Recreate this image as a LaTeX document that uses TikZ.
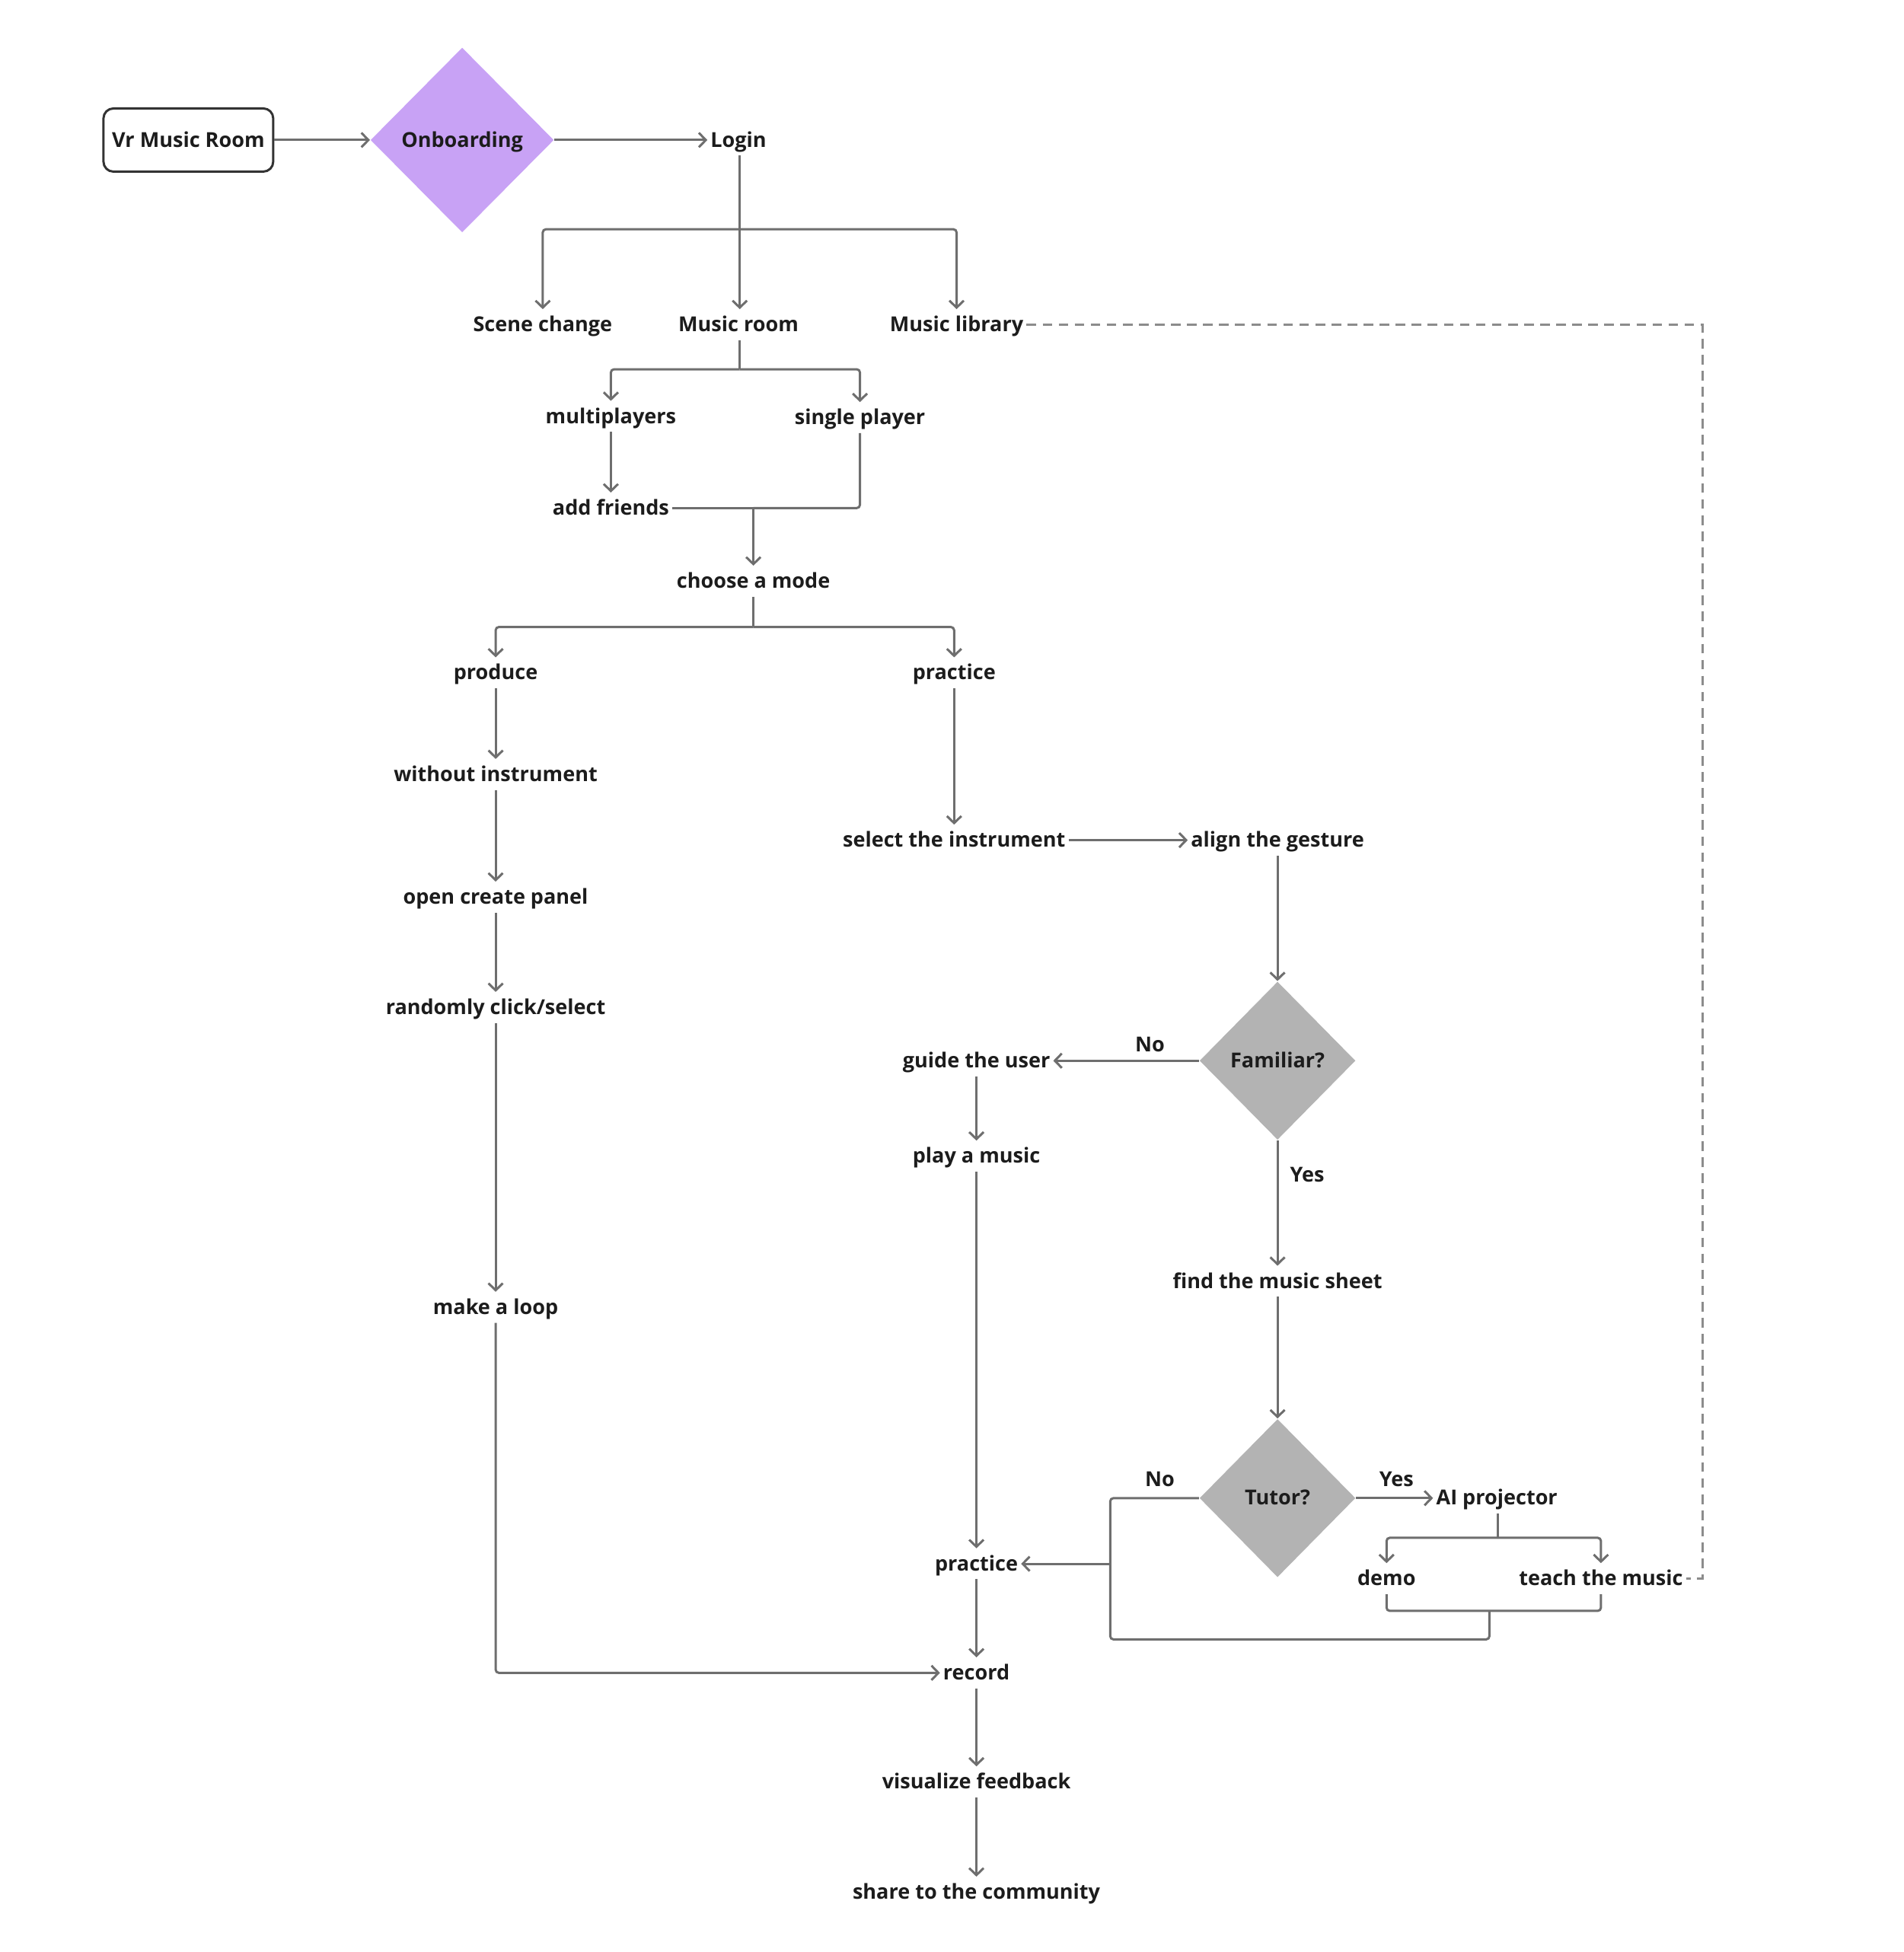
\documentclass[tikz,border=0pt]{standalone}
\usepackage{fontspec}
\setmainfont{Open Sans}
\usetikzlibrary{shapes.geometric,arrows.meta}
\definecolor{txt}{HTML}{1C1C1C}
\definecolor{lc}{HTML}{6E6E6E}
\definecolor{dl}{HTML}{8C8C8C}
\definecolor{lav}{HTML}{C8A2F5}
\definecolor{gry}{HTML}{B3B3B3}
\tikzset{
  lbl/.style={font=\fontsize{7.7}{9}\selectfont\bfseries, text=txt, inner xsep=1pt, inner ysep=2pt, text height=6.2pt, text depth=1pt},
  con/.style={draw=lc, line width=0.85pt, rounded corners=1.2pt},
  arr/.style={con, -{Straight Barb[length=2.6pt,width=5.4pt]}},
  dsh/.style={draw=dl, line width=0.8pt, dash pattern=on 3.6pt off 2.4pt},
  box/.style={lbl, draw=txt!90, line width=0.85pt, rounded corners=0.13cm, minimum width=2.23cm, minimum height=0.83cm},
  decis/.style={lbl, diamond, inner sep=0pt, aspect=1, minimum width=2.05cm, minimum height=2.08cm, fill=gry},
}
\begin{document}
\begin{tikzpicture}[x=0.016276cm, y=-0.016276cm]
\useasboundingbox (0,0) rectangle (1536,1575.3);
% nodes
\node[box] (vr) at (152,113) {Vr Music Room};
\node[decis, fill=lav, minimum width=2.41cm, minimum height=2.43cm] (onb) at (373,113) {Onboarding};
\node[lbl] (login) at (596,113) {Login};
\node[lbl] (scene) at (438,262) {Scene change};
\node[lbl] (mroom) at (596,262) {Music room};
\node[lbl] (lib) at (772,262) {Music library};
\node[lbl] (multi) at (493,336) {multiplayers};
\node[lbl] (single) at (694,337) {single player};
\node[lbl] (addf) at (493,410) {add friends};
\node[lbl] (choose) at (608,469) {choose a mode};
\node[lbl] (produce) at (400,543) {produce};
\node[lbl] (practice) at (770,543) {practice};
\node[lbl] (without) at (400,625) {without instrument};
\node[lbl] (panel) at (400,724) {open create panel};
\node[lbl] (rand) at (400,813) {randomly click/select};
\node[lbl] (loop) at (400,1055) {make a loop};
\node[lbl] (sel) at (770,678) {select the instrument};
\node[lbl] (align) at (1031,678) {align the gesture};
\node[decis] (fam) at (1031,856) {Familiar?};
\node[lbl] (guide) at (788,856) {guide the user};
\node[lbl] (play) at (788,933) {play a music};
\node[lbl] (find) at (1031,1034) {find the music sheet};
\node[decis] (tutor) at (1031,1209) {Tutor?};
\node[lbl] (ai) at (1208,1209) {AI projector};
\node[lbl] (demo) at (1119,1274) {demo};
\node[lbl] (teach) at (1292,1274) {teach the music};
\node[lbl] (prac2) at (788,1262) {practice};
\node[lbl] (record) at (788,1350) {record};
\node[lbl] (vis) at (788,1438) {visualize feedback};
\node[lbl] (share) at (788,1527) {share to the community};
% edge labels
\node[lbl] (no1) at (928,843) {No};
\node[lbl] (yes1) at (1055,948) {Yes};
\node[lbl] (no2) at (936,1194) {No};
\node[lbl] (yes2) at (1127,1194) {Yes};
% junction points
\coordinate (j1) at (597,185);
\coordinate (j2) at (597,298);
\coordinate (j3) at (608,410);
\coordinate (j4) at (608,506);
\coordinate (j5) at (1209,1241);
\coordinate (j6) at (1202,1300);
\coordinate (j7) at (896,1262);
\coordinate (dc) at (1374,262);
% connectors
\draw[arr] (vr) -- (onb);
\draw[arr] (onb) -- (login);
\draw[con] (login.south -| j1) -- (j1);
\draw[arr] (j1) -| (scene.north);
\draw[arr] (j1) -- (j1 |- mroom.north);
\draw[arr] (j1) -| (lib.north);
\draw[dsh] (lib.east) -- (dc) |- (teach.east);
\draw[con] (mroom.south -| j2) -- (j2);
\draw[arr] (j2) -| (multi.north);
\draw[arr] (j2) -| (single.north);
\draw[arr] (multi) -- (addf);
\draw[con] (addf.east) -- (j3);
\draw[con] (single.south) |- (j3);
\draw[arr] (j3) -- (choose.north -| j3);
\draw[con] (choose.south -| j4) -- (j4);
\draw[arr] (j4) -| (produce.north);
\draw[arr] (j4) -| (practice.north);
\draw[arr] (produce) -- (without);
\draw[arr] (without) -- (panel);
\draw[arr] (panel) -- (rand);
\draw[arr] (rand) -- (loop);
\draw[arr] (loop.south) |- (record.west);
\draw[arr] (practice) -- (sel);
\draw[arr] (sel) -- (align);
\draw[arr] (align) -- (fam);
\draw[arr] (fam) -- (guide);
\draw[arr] (guide) -- (play);
\draw[arr] (play) -- (prac2);
\draw[arr] (fam) -- (find);
\draw[arr] (find) -- (tutor);
\draw[arr] (tutor) -- (ai);
\draw[con] (ai.south -| j5) -- (j5);
\draw[arr] (j5) -| (demo.north);
\draw[arr] (j5) -| (teach.north);
\draw[con] (demo.south) |- (j6) -| (teach.south);
\draw[con] (tutor.west) -- (896,1209) -- (896,1323) -| (j6);
\draw[arr] (j7) -- (prac2.east);
\draw[arr] (prac2) -- (record);
\draw[arr] (record) -- (vis);
\draw[arr] (vis) -- (share);
\end{tikzpicture}
\end{document}
